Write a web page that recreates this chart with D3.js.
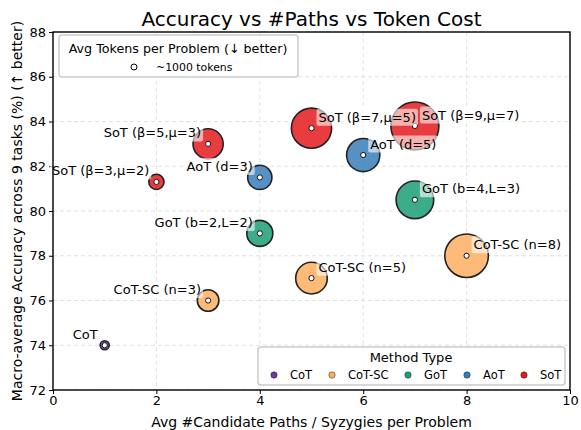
<!DOCTYPE html>
<html><head><meta charset="utf-8">
<script src="https://cdn.jsdelivr.net/npm/d3@7"></script>
<style>body{margin:0;background:#fff}text{font-family:"DejaVu Sans",sans-serif}</style>
</head><body><svg id="c" width="581" height="430"></svg>
<script>
const methods = ["CoT","CoT-SC","GoT","AoT","SoT"];
const methodColors = ["#6a3d9a","#fdae61","#1b9e77","#377eb8","#e41a1c"];
const labels = ["CoT","CoT-SC (n=3)","CoT-SC (n=5)","CoT-SC (n=8)","GoT (b=2,L=2)","GoT (b=4,L=3)","AoT (d=3)","AoT (d=5)","SoT (β=3,μ=2)","SoT (β=5,μ=3)","SoT (β=7,μ=5)","SoT (β=9,μ=7)"];
const pointMethod = ["CoT","CoT-SC","CoT-SC","CoT-SC","GoT","GoT","AoT","AoT","SoT","SoT","SoT","SoT"];
const paths = [1,3,5,8,4,7,4,6,2,3,5,7];
const accuracy = [74.0,76.0,77.0,78.0,79.0,80.5,81.5,82.5,81.3,83.0,83.7,83.8];
const tokens = [1700,9500,20400,38800,13800,28900,12000,22500,4700,18600,33000,47000];
const labelSide = ["left","left","right","right","left","right","left","right","left","left","right","right"];
const xTicks = [0,2,4,6,8,10];
const yTicks = [72,74,76,78,80,82,84,86,88];

const svg = d3.select("#c");
const m = {l:53, r:570, t:32, b:390};
const x = d3.scaleLinear().domain([0,10]).range([m.l,m.r]);
const y = d3.scaleLinear().domain([72,88]).range([m.b,m.t]);
const rScale = d3.scaleSqrt().domain([0,1000]).range([0,3.5]);
const color = d3.scaleOrdinal().domain(methods).range(methodColors);

// grid
const g = svg.append("g");
g.selectAll(".gx").data(xTicks).join("line").attr("x1",d=>x(d)).attr("x2",d=>x(d)).attr("y1",m.t).attr("y2",m.b)
 .attr("stroke","#d9d9d9").attr("stroke-dasharray","4,3").attr("stroke-width",0.8);
g.selectAll(".gy").data(yTicks).join("line").attr("y1",d=>y(d)).attr("y2",d=>y(d)).attr("x1",m.l).attr("x2",m.r)
 .attr("stroke","#d9d9d9").attr("stroke-dasharray","4,3").attr("stroke-width",0.8);

// axes
const xa = svg.append("g").attr("transform",`translate(0,${m.b})`).call(d3.axisBottom(x).tickValues(xTicks).tickSize(4).tickPadding(2));
const ya = svg.append("g").attr("transform",`translate(${m.l},0)`).call(d3.axisLeft(y).tickValues(yTicks).tickSize(4).tickPadding(3));
[xa,ya].forEach(a=>{a.selectAll("text").attr("font-size",13).attr("fill","#000").attr("font-family","DejaVu Sans");a.selectAll("line").attr("stroke","#000");a.select(".domain").remove();});

// points
const idx = d3.range(labels.length);
const pg = svg.append("g");
pg.selectAll("circle.big").data(idx).join("circle")
 .attr("cx",i=>x(paths[i])).attr("cy",i=>y(accuracy[i])).attr("r",i=>rScale(tokens[i]))
 .attr("fill",i=>color(pointMethod[i])).attr("fill-opacity",0.85)
 .attr("stroke","#222").attr("stroke-width",1.6);
pg.selectAll("circle.dot").data(idx).join("circle")
 .attr("cx",i=>x(paths[i])).attr("cy",i=>y(accuracy[i])).attr("r",2.6)
 .attr("fill","#fff").attr("stroke","#111").attr("stroke-width",1);

// labels
const lg = svg.append("g");
idx.forEach(i=>{
  const px = x(paths[i]), py = y(accuracy[i]);
  const right = labelSide[i]==="right";
  const gg = lg.append("g");
  const rect = gg.append("rect");
  const t = gg.append("text").attr("x", right? px+7 : px-7).attr("y", py-11)
    .attr("dy","0.35em").attr("text-anchor", right?"start":"end").attr("font-size",13).attr("fill","#000").text(labels[i]);
  const bb = t.node().getBBox();
  rect.attr("x",bb.x-2).attr("y",bb.y-1).attr("width",bb.width+4).attr("height",bb.height+2).attr("rx",2)
    .attr("fill","#fff").attr("fill-opacity",0.6);
});

// frame
svg.append("rect").attr("x",m.l).attr("y",m.t).attr("width",m.r-m.l).attr("height",m.b-m.t)
 .attr("fill","none").attr("stroke","#000").attr("stroke-width",1.4);

// title & axis labels
svg.append("text").attr("x",(m.l+m.r)/2).attr("y",19).attr("dy","0.35em").attr("text-anchor","middle").attr("font-size",20).text("Accuracy vs #Paths vs Token Cost");
svg.append("text").attr("x",(m.l+m.r)/2).attr("y",422).attr("dy","0.35em").attr("text-anchor","middle").attr("font-size",14).text("Avg #Candidate Paths / Syzygies per Problem");
svg.append("text").attr("transform",`translate(17,${(m.t+m.b)/2}) rotate(-90)`).attr("dy","0.35em").attr("text-anchor","middle").attr("font-size",14).text("Macro-average Accuracy across 9 tasks (%) (↑ better)");

// size legend
const l1 = svg.append("g");
l1.append("rect").attr("x",59).attr("y",35).attr("width",239).attr("height",42).attr("rx",3).attr("fill","#fff").attr("fill-opacity",0.8).attr("stroke","#ccc").attr("stroke-width",1.5);
l1.append("text").attr("x",178).attr("y",49).attr("dy","0.35em").attr("text-anchor","middle").attr("font-size",12.7).text("Avg Tokens per Problem (↓ better)");
l1.append("circle").attr("cx",134).attr("cy",67).attr("r",rScale(1000)-0.5).attr("fill","#fff").attr("stroke","#000").attr("stroke-width",1);
l1.append("text").attr("x",156).attr("y",67).attr("dy","0.35em").attr("font-size",10.9).text("~1000 tokens");

// method legend
const l2 = svg.append("g");
l2.append("rect").attr("x",258).attr("y",347).attr("width",307).attr("height",38).attr("rx",3).attr("fill","#fff").attr("fill-opacity",0.8).attr("stroke","#ccc").attr("stroke-width",1.5);
l2.append("text").attr("x",411).attr("y",357).attr("dy","0.35em").attr("text-anchor","middle").attr("font-size",13).text("Method Type");
const entryX = [274,332,408,467,524];
methods.forEach((mm,i)=>{
  l2.append("circle").attr("cx",entryX[i]).attr("cy",375).attr("r",3.2).attr("fill",color(mm)).attr("stroke","#222").attr("stroke-width",0.5);
  l2.append("text").attr("x",entryX[i]+16).attr("y",375).attr("dy","0.35em").attr("font-size",11.5).text(mm);
});
</script></body></html>
